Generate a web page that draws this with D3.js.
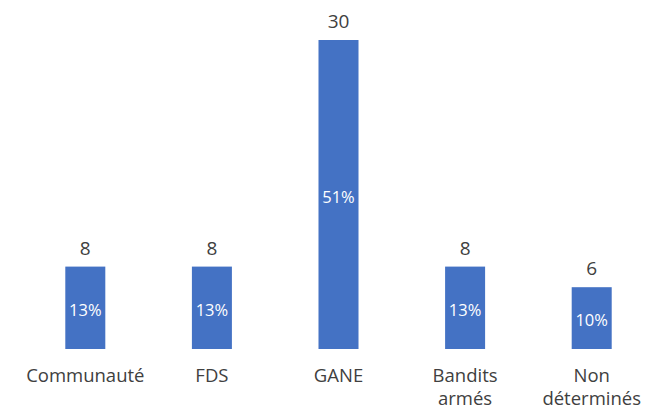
<!DOCTYPE html>
<html><head><meta charset="utf-8">
<script src="https://cdn.jsdelivr.net/npm/d3@7"></script>
<style>body{margin:0;background:#fff}svg{display:block}</style>
</head><body>
<svg id="c" width="667" height="411"></svg>
<script>
const categories = [["Communauté"], ["FDS"], ["GANE"], ["Bandits", "armés"], ["Non", "déterminés"]];
const values = [8, 8, 30, 8, 6];
const percents = ["13%", "13%", "51%", "13%", "10%"];

const svg = d3.select("#c");
const font = "'Open Sans', sans-serif";
const baseY = 349;
const x = d3.scaleBand().domain(d3.range(values.length)).range([22, 655]).paddingInner(0.684).paddingOuter(0.342);
const y = d3.scaleLinear().domain([0, 30]).range([baseY, 40]);

const g = svg.append("g");
g.selectAll("rect").data(values).join("rect")
  .attr("x", (d, i) => x(i)).attr("width", x.bandwidth())
  .attr("y", d => y(d)).attr("height", d => baseY - y(d))
  .attr("fill", "#4472C4");

g.selectAll("text.v").data(values).join("text").attr("class", "v")
  .attr("x", (d, i) => x(i) + x.bandwidth() / 2)
  .attr("y", d => y(d) - 12)
  .attr("text-anchor", "middle").attr("font-family", font).attr("font-size", 19)
  .attr("fill", "#404040").text(d => d);

g.selectAll("text.p").data(values).join("text").attr("class", "p")
  .attr("x", (d, i) => x(i) + x.bandwidth() / 2)
  .attr("y", d => (y(d) + baseY) / 2 + 8)
  .attr("text-anchor", "middle").attr("font-family", font).attr("font-size", 16.5)
  .attr("fill", "#ffffff").text((d, i) => percents[i]);

const minX = 14, maxX = 652;
categories.forEach((lines, i) => {
  const cx = x(i) + x.bandwidth() / 2;
  const t = g.append("text").attr("text-anchor", "middle").attr("font-family", font)
    .attr("font-size", 18.5).attr("fill", "#404040");
  lines.forEach((l, j) => t.append("tspan").attr("x", cx).attr("y", 382 + j * 23).text(l));
  const w = t.node().getBBox().width;
  let shift = 0;
  if (cx - w / 2 < minX) shift = minX - (cx - w / 2);
  if (cx + w / 2 > maxX) shift = maxX - (cx + w / 2);
  t.attr("transform", `translate(${shift},0)`);
});
</script>
</body></html>
